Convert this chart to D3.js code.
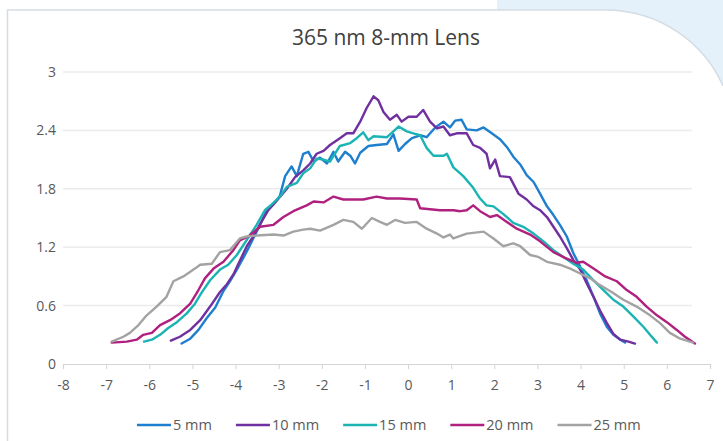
<!DOCTYPE html>
<html><head><meta charset="utf-8">
<script src="https://cdn.jsdelivr.net/npm/d3@7"></script>
<style>html,body{margin:0;padding:0;background:#fff;}svg{display:block;}</style>
</head><body>
<svg id="chart" width="723" height="441"></svg>
<script>
const title = "365 nm 8-mm Lens";
const seriesNames = ["5 mm", "10 mm", "15 mm", "20 mm", "25 mm"];
const seriesColors = ["#1f7fcf", "#7030a0", "#1bb3b3", "#b0207f", "#a3a3a3"];
const xTicks = [-8,-7,-6,-5,-4,-3,-2,-1,0,1,2,3,4,5,6,7];
const yTicks = [0,0.6,1.2,1.8,2.4,3];
const yTickLabels = ["0","0.6","1.2","1.8","2.4","3"];

const s5mm = [[-5.25,0.21],[-5.05,0.26],[-4.86,0.35],[-4.67,0.47],[-4.47,0.58],[-4.28,0.75],[-4.13,0.85],[-3.97,0.97],[-3.82,1.09],[-3.70,1.19],[-3.59,1.29],[-3.43,1.43],[-3.28,1.58],[-3.12,1.64],[-2.97,1.73],[-2.85,1.93],[-2.70,2.03],[-2.58,1.93],[-2.43,2.16],[-2.31,2.18],[-2.19,2.08],[-2.04,2.12],[-1.88,2.06],[-1.73,2.18],[-1.62,2.08],[-1.46,2.18],[-1.34,2.14],[-1.23,2.06],[-1.11,2.17],[-0.92,2.24],[-0.73,2.25],[-0.49,2.26],[-0.34,2.36],[-0.22,2.19],[-0.07,2.26],[0.09,2.32],[0.28,2.35],[0.43,2.33],[0.63,2.43],[0.82,2.49],[0.97,2.43],[1.09,2.50],[1.24,2.51],[1.36,2.41],[1.59,2.40],[1.75,2.43],[1.94,2.37],[2.13,2.31],[2.29,2.23],[2.44,2.13],[2.60,2.05],[2.75,1.94],[2.91,1.87],[3.06,1.75],[3.22,1.62],[3.37,1.53],[3.52,1.43],[3.68,1.31],[3.83,1.14],[3.99,1.00],[4.14,0.86],[4.30,0.69],[4.45,0.52],[4.61,0.38],[4.76,0.30],[4.92,0.25],[5.03,0.22]];
const s10mm = [[-5.50,0.24],[-5.29,0.28],[-5.05,0.35],[-4.82,0.45],[-4.59,0.59],[-4.36,0.74],[-4.20,0.82],[-4.05,0.92],[-3.90,1.06],[-3.74,1.21],[-3.59,1.31],[-3.40,1.46],[-3.24,1.58],[-3.04,1.68],[-2.81,1.80],[-2.62,1.92],[-2.43,1.99],[-2.27,2.06],[-2.12,2.16],[-1.96,2.19],[-1.81,2.25],[-1.58,2.32],[-1.42,2.37],[-1.27,2.37],[-1.11,2.49],[-0.96,2.63],[-0.80,2.75],[-0.69,2.71],[-0.57,2.59],[-0.42,2.51],[-0.26,2.56],[-0.15,2.49],[0.01,2.54],[0.20,2.54],[0.35,2.61],[0.51,2.49],[0.67,2.42],[0.82,2.44],[0.97,2.35],[1.13,2.37],[1.36,2.37],[1.51,2.25],[1.67,2.22],[1.82,2.16],[1.90,2.01],[2.02,2.10],[2.13,1.93],[2.36,1.92],[2.56,1.75],[2.75,1.69],[2.91,1.62],[3.06,1.58],[3.22,1.51],[3.37,1.41],[3.52,1.31],[3.68,1.19],[3.83,1.07],[3.99,0.97],[4.14,0.83],[4.30,0.69],[4.45,0.55],[4.61,0.42],[4.76,0.31],[4.92,0.25],[5.11,0.23],[5.26,0.21]];
const s15mm = [[-6.12,0.23],[-5.94,0.25],[-5.75,0.30],[-5.56,0.37],[-5.36,0.43],[-5.13,0.52],[-4.94,0.62],[-4.79,0.73],[-4.59,0.86],[-4.36,0.97],[-4.17,1.02],[-3.97,1.12],[-3.82,1.22],[-3.66,1.33],[-3.51,1.43],[-3.32,1.58],[-3.16,1.64],[-2.97,1.72],[-2.81,1.82],[-2.58,1.86],[-2.43,1.96],[-2.27,2.01],[-2.12,2.11],[-1.96,2.10],[-1.81,2.08],[-1.58,2.24],[-1.34,2.27],[-1.19,2.32],[-1.04,2.38],[-0.92,2.30],[-0.80,2.34],[-0.49,2.33],[-0.34,2.39],[-0.22,2.44],[-0.03,2.39],[0.12,2.37],[0.28,2.35],[0.43,2.22],[0.59,2.14],[0.82,2.14],[0.90,2.16],[1.05,2.02],[1.28,1.93],[1.51,1.81],[1.67,1.70],[1.82,1.63],[1.98,1.62],[2.21,1.54],[2.44,1.45],[2.67,1.41],[2.91,1.34],[3.14,1.26],[3.37,1.17],[3.60,1.10],[3.83,1.03],[4.06,0.97],[4.30,0.86],[4.53,0.76],[4.76,0.66],[4.99,0.59],[5.22,0.49],[5.46,0.38],[5.61,0.30],[5.77,0.22]];
const s20mm = [[-6.87,0.22],[-6.52,0.23],[-6.29,0.25],[-6.14,0.30],[-5.94,0.32],[-5.75,0.40],[-5.52,0.45],[-5.29,0.52],[-5.05,0.62],[-4.86,0.76],[-4.71,0.88],[-4.51,0.98],[-4.28,1.05],[-4.05,1.17],[-3.90,1.27],[-3.70,1.31],[-3.43,1.41],[-3.12,1.43],[-2.89,1.51],[-2.66,1.57],[-2.35,1.63],[-2.19,1.67],[-1.96,1.66],[-1.73,1.72],[-1.50,1.69],[-1.04,1.69],[-0.73,1.72],[-0.49,1.70],[-0.19,1.70],[0.20,1.69],[0.28,1.60],[0.74,1.58],[1.05,1.58],[1.21,1.57],[1.36,1.58],[1.51,1.63],[1.67,1.57],[1.90,1.51],[2.06,1.53],[2.29,1.46],[2.52,1.39],[2.83,1.33],[3.06,1.26],[3.37,1.15],[3.64,1.09],[3.91,1.04],[4.06,1.05],[4.30,0.98],[4.57,0.90],[4.84,0.85],[5.07,0.76],[5.30,0.69],[5.53,0.59],[5.77,0.50],[6.00,0.43],[6.23,0.35],[6.42,0.28],[6.65,0.21]];
const s25mm = [[-6.87,0.23],[-6.60,0.28],[-6.45,0.32],[-6.25,0.40],[-6.06,0.50],[-5.83,0.59],[-5.60,0.69],[-5.44,0.85],[-5.21,0.90],[-4.94,0.98],[-4.82,1.02],[-4.55,1.03],[-4.36,1.15],[-4.13,1.17],[-3.90,1.29],[-3.74,1.31],[-3.51,1.32],[-3.12,1.33],[-2.89,1.32],[-2.66,1.36],[-2.43,1.38],[-2.27,1.39],[-2.04,1.37],[-1.73,1.43],[-1.50,1.48],[-1.27,1.46],[-1.07,1.39],[-0.84,1.50],[-0.65,1.46],[-0.49,1.43],[-0.30,1.48],[-0.07,1.45],[0.20,1.46],[0.43,1.39],[0.67,1.34],[0.82,1.30],[0.97,1.33],[1.05,1.29],[1.36,1.34],[1.75,1.36],[1.98,1.29],[2.21,1.21],[2.44,1.24],[2.60,1.21],[2.83,1.12],[3.02,1.10],[3.22,1.05],[3.52,1.02],[3.76,0.98],[3.99,0.93],[4.22,0.88],[4.45,0.81],[4.72,0.74],[4.99,0.66],[5.30,0.59],[5.61,0.50],[5.84,0.42],[6.07,0.32],[6.31,0.26],[6.61,0.22]];
const seriesData = [s5mm, s10mm, s15mm, s20mm, s25mm];

const svg = d3.select("#chart");
const FONT = "'Open Sans', 'Noto Sans', sans-serif";

// page background pieces
svg.append("path")
  .attr("d", "M497,0 H723 V86 C705,45 662,10 605,10 H497 Z")
  .attr("fill", "#e4f0fa");
svg.append("path")
  .attr("d", "M7.5,441 V10 H605 C662,10 705,45 723,86")
  .attr("fill", "none").attr("stroke", "#d5dde4").attr("stroke-width", 1.5);

const x = d3.scaleLinear().domain([-8, 7]).range([63, 710]);
const y = d3.scaleLinear().domain([0, 3]).range([364, 72]);
const gridRight = 692;

// gridlines
svg.append("g").selectAll("line").data(yTicks.filter(d => d > 0)).join("line")
  .attr("x1", x(-8)).attr("x2", gridRight)
  .attr("y1", d => y(d)).attr("y2", d => y(d))
  .attr("stroke", "#ebebeb").attr("stroke-width", 1.5);

// x axis
const xAxis = d3.axisBottom(x).tickValues(xTicks).tickSize(5).tickPadding(11)
  .tickFormat(d => String(d));
const gx = svg.append("g").attr("transform", `translate(0,${y(0)})`).call(xAxis);
gx.select(".domain").attr("stroke", "#d4d4d4").attr("stroke-width", 1.2);
gx.selectAll(".tick line").attr("stroke", "#d4d4d4");
gx.selectAll(".tick text").attr("fill", "#595959").style("font-family", FONT).style("font-size", "14px");

// y axis labels
const yAxis = d3.axisLeft(y).tickValues(yTicks).tickSize(0).tickPadding(7)
  .tickFormat((d, i) => yTickLabels[i]);
const gy = svg.append("g").attr("transform", `translate(${x(-8)},0)`).call(yAxis);
gy.select(".domain").remove();
gy.selectAll(".tick text").attr("fill", "#595959").style("font-family", FONT).style("font-size", "14px");

// lines
const line = d3.line().x(d => x(d[0])).y(d => y(d[1])).curve(d3.curveLinear);
svg.append("g").selectAll("path").data(seriesData).join("path")
  .attr("d", line)
  .attr("fill", "none")
  .attr("stroke", (d, i) => seriesColors[i])
  .attr("stroke-width", 2.4)
  .attr("stroke-linejoin", "round")
  .attr("stroke-linecap", "round");

// title
svg.append("text").attr("x", 386).attr("y", 45).attr("text-anchor", "middle")
  .attr("fill", "#404040").style("font-family", FONT).style("font-size", "21px")
  .text(title);

// legend
const lg = svg.append("g");
let lx = 137;
const ly = 425;
seriesNames.forEach((name, i) => {
  lg.append("line").attr("x1", lx).attr("x2", lx + 34).attr("y1", ly).attr("y2", ly)
    .attr("stroke", seriesColors[i]).attr("stroke-width", 2.6);
  const t = lg.append("text").attr("x", lx + 36).attr("y", ly + 5)
    .attr("fill", "#595959").style("font-family", FONT).style("font-size", "14.5px").text(name);
  lx += 36 + t.node().getComputedTextLength() + 24;
});
</script>
</body></html>
